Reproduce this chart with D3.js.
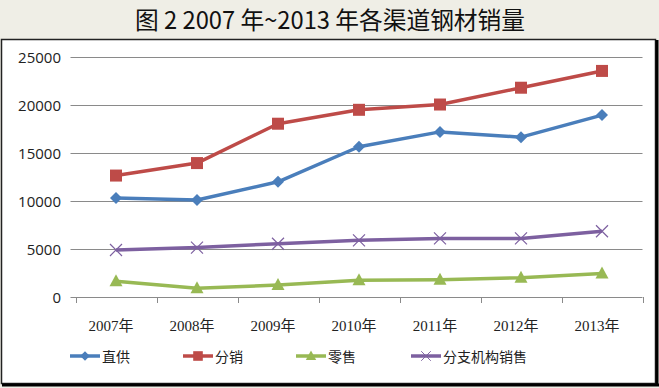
<!DOCTYPE html>
<html>
<head>
<meta charset="utf-8">
<script src="https://cdn.jsdelivr.net/npm/d3@7"></script>
<style>
  body { margin: 0; background: #efeee6; }
  svg { display: block; }
</style>
</head>
<body>
<svg id="chart"></svg>
<script>
// data
var years = ["2007年", "2008年", "2009年", "2010年", "2011年", "2012年", "2013年"]
var zhigong = [10300, 10100, 12000, 15650, 17200, 16650, 18950]
var fenxiao = [12650, 13950, 18050, 19500, 20050, 21800, 23550]
var lingshou = [1650, 900, 1250, 1750, 1800, 2000, 2450]
var fenzhi = [4900, 5150, 5550, 5900, 6100, 6100, 6850]
var yTicks = [0, 5000, 10000, 15000, 20000, 25000]

var series = [
    { name: "直供", values: zhigong, color: "#4a7ebb", marker: "diamond" },
    { name: "分销", values: fenxiao, color: "#be4b48", marker: "square" },
    { name: "零售", values: lingshou, color: "#98b954", marker: "triangle" },
    { name: "分支机构销售", values: fenzhi, color: "#7d60a0", marker: "x" }
]

var W = 659, H = 388
var svg = d3.select("#chart").attr("width", W).attr("height", H)

// title band
svg.append("text")
    .attr("x", 330).attr("y", 29)
    .attr("text-anchor", "middle")
    .attr("font-family", "'Noto Sans CJK SC', sans-serif")
    .attr("font-size", 24)
    .attr("textLength", 390)
    .attr("lengthAdjust", "spacingAndGlyphs")
    .attr("fill", "#111")
    .text("图 2 2007 年~2013 年各渠道钢材销量")

// chart frame
svg.append("rect")
    .attr("x", 1.5).attr("y", 39.5)
    .attr("width", 654).attr("height", 344)
    .attr("fill", "#fff")
    .attr("stroke", "#222").attr("stroke-width", 1.5)
svg.append("line").attr("x1", 657).attr("x2", 657).attr("y1", 40).attr("y2", 386)
    .attr("stroke", "#000").attr("stroke-width", 3)
svg.append("line").attr("x1", 2).attr("x2", 659).attr("y1", 385).attr("y2", 385)
    .attr("stroke", "#000").attr("stroke-width", 3)

var plotLeft = 75.5, plotRight = 642.5, plotTop = 57, plotBottom = 297

var x = d3.scaleBand().domain(years).range([plotLeft, plotRight])
var y = d3.scaleLinear().domain([0, 25000]).range([plotBottom, plotTop])

var font = "'Open Sans', 'Liberation Sans', sans-serif"

// gridlines
svg.append("g").selectAll("line")
    .data(yTicks)
    .enter().append("line")
    .attr("x1", plotLeft - 5).attr("x2", plotRight)
    .attr("y1", function (d) { return Math.round(y(d)) + 0.5 })
    .attr("y2", function (d) { return Math.round(y(d)) + 0.5 })
    .attr("stroke", "#8a8a8a").attr("stroke-width", 1)

// y axis labels
svg.append("g").selectAll("text")
    .data(yTicks)
    .enter().append("text")
    .attr("x", 61)
    .attr("y", function (d) { return y(d) + 5.5 })
    .attr("text-anchor", "end")
    .attr("font-family", font).attr("font-size", 15)
    .attr("fill", "#222")
    .text(function (d) { return d })

// x axis ticks
var xTicks = d3.range(years.length + 1).map(function (i) { return plotLeft + i * x.bandwidth() })
svg.append("g").selectAll("line")
    .data(xTicks)
    .enter().append("line")
    .attr("x1", function (d) { return Math.round(d) + 0.5 })
    .attr("x2", function (d) { return Math.round(d) + 0.5 })
    .attr("y1", plotBottom).attr("y2", plotBottom + 6)
    .attr("stroke", "#8a8a8a")

svg.append("g").selectAll("text")
    .data(years)
    .enter().append("text")
    .attr("x", function (d) { return x(d) + x.bandwidth() / 2 - 5 })
    .attr("y", 331)
    .attr("text-anchor", "middle")
    .attr("font-family", "'Liberation Serif', 'Noto Sans CJK SC', serif")
    .attr("font-size", 15)
    .attr("fill", "#222")
    .text(function (d) { return d })

var line = d3.line()
    .x(function (d, i) { return x(years[i]) + x.bandwidth() / 2 })
    .y(function (d) { return y(d) })

function drawMarker(g, type, color) {
    if (type == "diamond") {
        g.append("path").attr("d", "M0,-6L6,0L0,6L-6,0Z").attr("fill", color)
    } else if (type == "square") {
        g.append("rect").attr("x", -6).attr("y", -6).attr("width", 12).attr("height", 12)
            .attr("fill", color)
    } else if (type == "triangle") {
        g.append("path").attr("d", "M0,-7L6.5,5L-6.5,5Z").attr("fill", color)
    } else {
        g.append("path").attr("d", "M-6,-6L6,6M-6,6L6,-6")
            .attr("stroke", color).attr("stroke-width", 1.2).attr("fill", "none")
    }
}

series.forEach(function (s) {
    svg.append("path")
        .datum(s.values)
        .attr("d", line)
        .attr("fill", "none")
        .attr("stroke", s.color)
        .attr("stroke-width", 3.5)
        .attr("stroke-linejoin", "round")

    s.values.forEach(function (v, i) {
        var g = svg.append("g")
            .attr("transform", "translate(" + (x(years[i]) + x.bandwidth() / 2) + "," + y(v) + ")")
        drawMarker(g, s.marker, s.color)
    })
})

// legend
var legendX = [70, 183, 296, 411]
series.forEach(function (s, i) {
    var g = svg.append("g").attr("transform", "translate(" + legendX[i] + ",356)")
    g.append("line").attr("x1", 0).attr("x2", 30).attr("y1", 0).attr("y2", 0)
        .attr("stroke", s.color).attr("stroke-width", 3.5)
    var m = g.append("g").attr("transform", "translate(15,0) scale(0.8)")
    drawMarker(m, s.marker, s.color)
    g.append("text")
        .attr("x", 32).attr("y", 5.5)
        .attr("font-family", "'Noto Sans CJK SC', sans-serif")
        .attr("font-size", 14)
        .attr("fill", "#222")
        .text(s.name)
})
</script>
</body>
</html>
